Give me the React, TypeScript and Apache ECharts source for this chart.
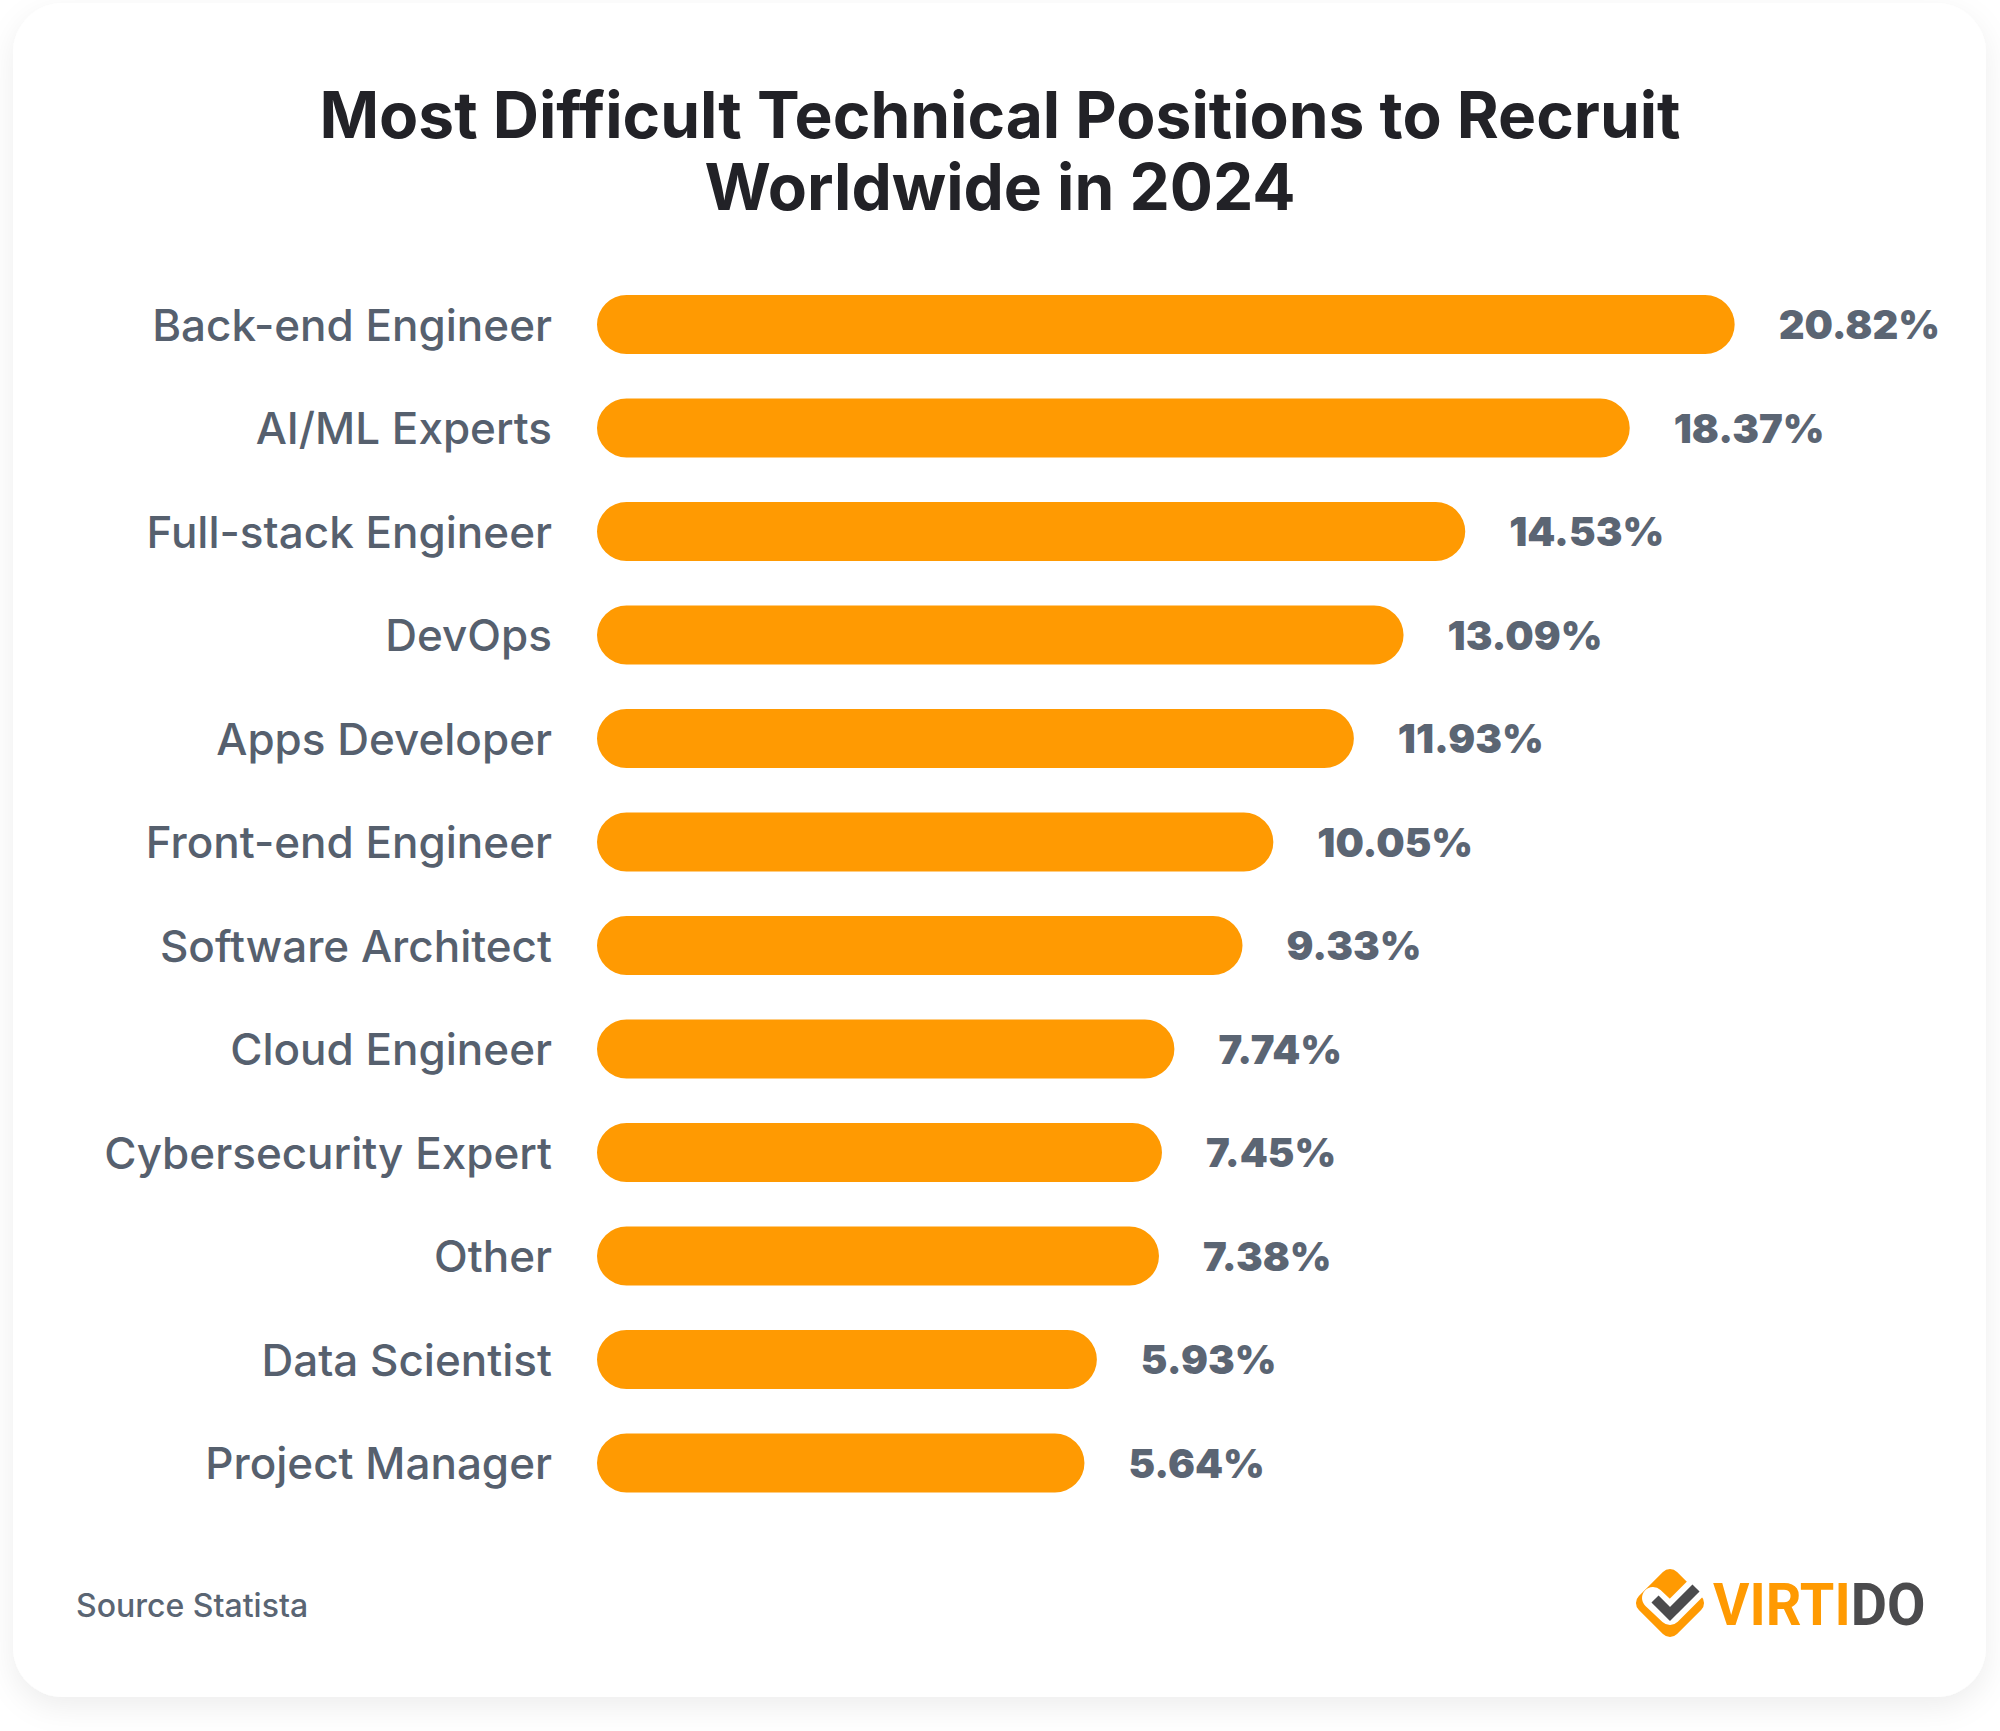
import React, { useEffect, useRef } from "react";
import * as echarts from "echarts";

const categories = [
  "Back-end Engineer",
  "AI/ML Experts",
  "Full-stack Engineer",
  "DevOps",
  "Apps Developer",
  "Front-end Engineer",
  "Software Architect",
  "Cloud Engineer",
  "Cybersecurity Expert",
  "Other",
  "Data Scientist",
  "Project Manager",
];
const values = [20.82, 18.37, 14.53, 13.09, 11.93, 10.05, 9.33, 7.74, 7.45, 7.38, 5.93, 5.64];

const titleText = "Most Difficult Technical Positions to Recruit\nWorldwide in 2024";
const sourceText = "Source Statista";

const X_MIN = -5.74;
const X_MAX = 24.68;

const ORANGE = "#ff9a02";
const LABEL_COLOR = "#56606e";
const VALUE_COLOR = "#5b6573";
const FONT = "Inter, 'Open Sans', sans-serif";

export default function App() {
  const ref = useRef<HTMLDivElement>(null);

  useEffect(() => {
    if (!ref.current) return;
    const chart = echarts.init(ref.current, undefined, { renderer: "svg" });

    const option: any = {
      animation: false,
      backgroundColor: "#ffffff",
      title: {
        text: titleText,
        left: "center",
        top: 73,
        textStyle: {
          fontFamily: FONT,
          fontWeight: 700,
          fontSize: 64,
          lineHeight: 72,
          color: "#222227",
        },
      },
      grid: {
        left: 597,
        width: 1303,
        top: 272.75,
        height: 1242,
        containLabel: false,
      },
      xAxis: {
        type: "value",
        min: X_MIN,
        max: X_MAX,
        show: false,
      },
      yAxis: {
        type: "category",
        data: categories,
        inverse: true,
        axisLine: { show: false },
        axisTick: { show: false },
        splitLine: { show: false },
        axisLabel: {
          margin: 45,
          fontFamily: FONT,
          fontWeight: 500,
          fontSize: 44,
          color: LABEL_COLOR,
        },
      },
      graphic: [
        {
          type: "rect",
          z: -10,
          silent: true,
          shape: { x: 13, y: 3, width: 1973, height: 1694, r: 50 },
          style: {
            fill: "#ffffff",
            shadowBlur: 30,
            shadowOffsetY: 10,
            shadowColor: "rgba(0,0,0,0.07)",
          },
        },
        {
          type: "text",
          x: 76,
          y: 1605,
          style: {
            text: sourceText,
            fontFamily: FONT,
            fontWeight: 500,
            fontSize: 32,
            fill: "#5a6573",
            verticalAlign: "middle",
          },
        },
        {
          type: "rect",
          x: 1670,
          y: 1603,
          rotation: Math.PI / 4,
          shape: { x: -27, y: -27, width: 54, height: 54, r: 10 },
          style: { fill: ORANGE },
        },
        {
          type: "polyline",
          shape: { points: [[1653, 1598], [1670, 1614], [1697, 1587]] },
          style: { stroke: "#ffffff", lineWidth: 22, lineCap: "round", lineJoin: "round", fill: null },
        },
        {
          type: "polyline",
          shape: { points: [[1655, 1599], [1670, 1614], [1696, 1588]] },
          style: { stroke: "#4b4b4d", lineWidth: 10, lineCap: "butt", lineJoin: "miter", fill: null },
        },
        {
          type: "text",
          x: 1713,
          y: 1604,
          scaleX: 0.93,
          style: {
            text: "{a|VIRTI}{b|DO}",
            verticalAlign: "middle",
            rich: {
              a: {
                fontFamily: "Roboto, sans-serif",
                fontWeight: 700,
                fontSize: 60,
                fill: ORANGE,
                color: ORANGE,
              },
              b: {
                fontFamily: "Roboto, sans-serif",
                fontWeight: 700,
                fontSize: 60,
                fill: "#4b4b4d",
                color: "#4b4b4d",
              },
            },
          },
        },
      ],
      series: [
        {
          type: "custom",
          data: values.map((v, i) => [v, i]),
          encode: { x: 0, y: 1 },
          clip: false,
          renderItem: (params: any, api: any) => {
            const v = api.value(0);
            const idx = api.value(1);
            const start = api.coord([X_MIN, idx]);
            const end = api.coord([v, idx]);
            const band = api.size([0, 1])[1];
            const h = band * 0.57;
            return {
              type: "group",
              children: [
                {
                  type: "rect",
                  shape: {
                    x: start[0],
                    y: start[1] - h / 2,
                    width: end[0] - start[0],
                    height: h,
                    r: h / 2,
                  },
                  style: { fill: ORANGE },
                },
                {
                  type: "text",
                  x: end[0] + 44,
                  y: end[1],
                  style: {
                    text: v.toFixed(2) + "%",
                    fontFamily: FONT,
                    fontWeight: 900,
                    fontSize: 40,
                    fill: VALUE_COLOR,
                    verticalAlign: "middle",
                    align: "left",
                  },
                },
              ],
            };
          },
        },
      ],
    };

    chart.setOption(option);
    return () => chart.dispose();
  }, []);

  return (
    <div
      ref={ref}
      style={{ position: "absolute", left: 0, top: 0, width: 2000, height: 1731 }}
    />
  );
}
